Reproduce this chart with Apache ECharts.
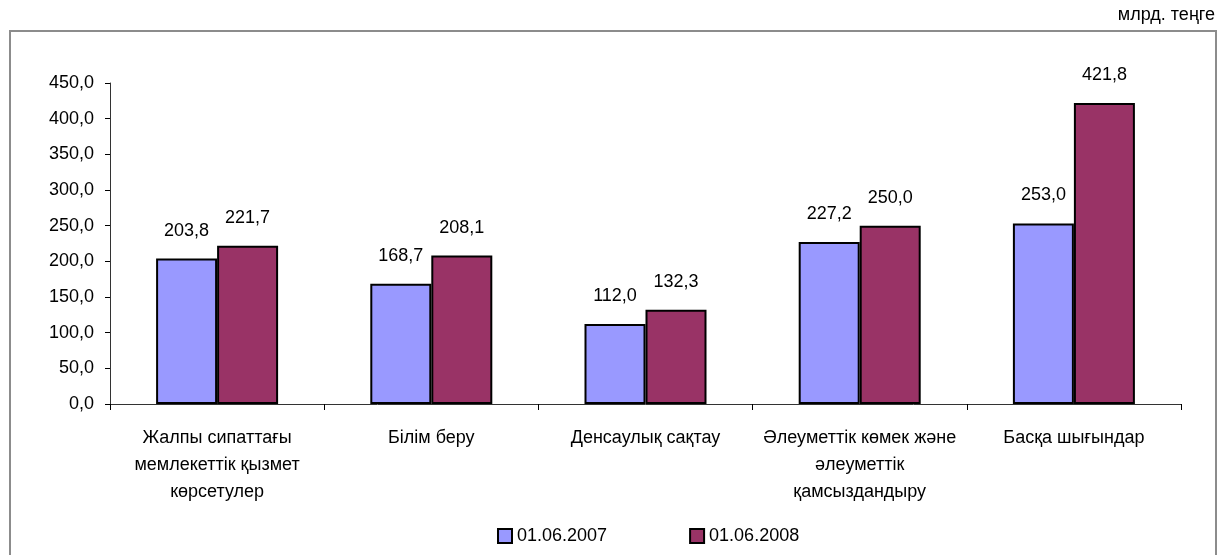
<!DOCTYPE html>
<html><head><meta charset="utf-8">
<script src="https://cdn.jsdelivr.net/npm/echarts@6/dist/echarts.min.js"></script>
<style>html,body{margin:0;padding:0;background:#fff}#c{width:1219px;height:555px}</style>
</head><body><div id="c"></div>
<script>
const categories = ["Жалпы сипаттағы\nмемлекеттік қызмет\nкөрсетулер", "Білім беру", "Денсаулық сақтау", "Әлеуметтік көмек және\nәлеуметтік\nқамсыздандыру", "Басқа шығындар"];
const series2007 = [203.8, 168.7, 112.0, 227.2, 253.0];
const series2008 = [221.7, 208.1, 132.3, 250.0, 421.8];
const seriesNames = ["01.06.2007", "01.06.2008"];
const unitLabel = "млрд. теңге";

const fmt = v => Number(v).toFixed(1).replace('.', ',');
const font = 'Liberation Sans, Arial, sans-serif';
const FS = 18;
const chart = echarts.init(document.getElementById('c'), null, {renderer: 'canvas'});
chart.setOption({
  animation: false,
  textStyle: {fontFamily: font},
  graphic: [
    {type: 'rect', shape: {x: 10, y: 31, width: 1206, height: 540}, style: {fill: 'none', stroke: '#8c8c8c', lineWidth: 2}, silent: true},
    {type: 'text', right: 4, top: 6, style: {text: unitLabel, font: FS + 'px ' + font, fill: '#000'}}
  ],
  legend: {
    top: 527, left: 497, padding: 0, itemGap: 82, itemWidth: 14, itemHeight: 14,
    textStyle: {fontSize: FS, color: '#000', fontFamily: font},
    icon: 'rect',
    data: seriesNames.map(n => ({name: n, itemStyle: {borderColor: '#000', borderWidth: 2}}))
  },
  grid: {left: 110, right: 38, top: 83, bottom: 151},
  xAxis: {
    type: 'category', data: categories,
    axisLine: {lineStyle: {color: '#333', width: 1}},
    axisTick: {show: true, length: 6, lineStyle: {color: '#000'}},
    axisLabel: {interval: 0, margin: 21, fontSize: FS, lineHeight: 27, color: '#000', fontFamily: font}
  },
  yAxis: {
    type: 'value', min: 0, max: 450, interval: 50,
    axisLine: {show: true, lineStyle: {color: '#333', width: 1}},
    axisTick: {show: true, length: 5, lineStyle: {color: '#000'}},
    splitLine: {show: false},
    axisLabel: {formatter: fmt, fontSize: FS, color: '#000', margin: 16, fontFamily: font}
  },
  series: [
    {name: seriesNames[0], type: 'bar', data: series2007, barWidth: 61, barGap: '0%',
     itemStyle: {color: '#9999FF', borderColor: '#000', borderWidth: 2},
     label: {show: true, position: 'top', distance: 19, formatter: p => fmt(p.value), fontSize: FS, color: '#000', fontFamily: font}},
    {name: seriesNames[1], type: 'bar', data: series2008, barWidth: 61, barGap: '0%',
     itemStyle: {color: '#993366', borderColor: '#000', borderWidth: 2},
     label: {show: true, position: 'top', distance: 19, formatter: p => fmt(p.value), fontSize: FS, color: '#000', fontFamily: font}}
  ]
});
</script></body></html>
